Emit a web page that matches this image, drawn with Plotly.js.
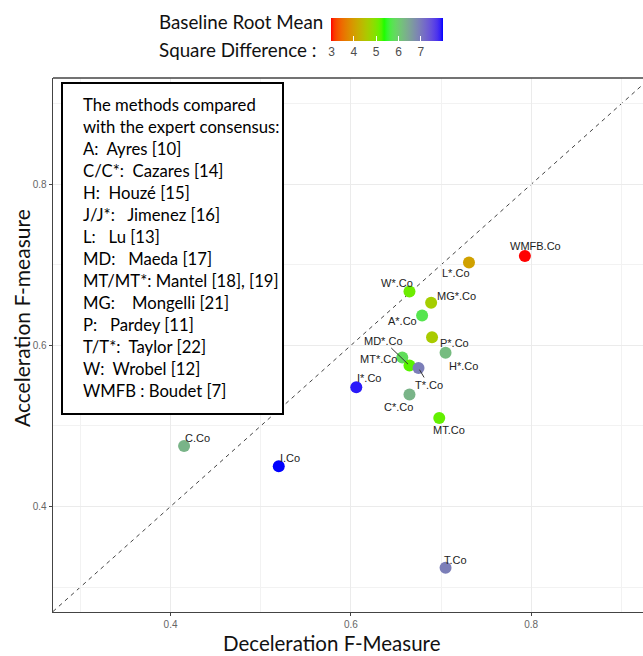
<!DOCTYPE html>
<html><head><meta charset="utf-8">
<script src="https://cdn.plot.ly/plotly-3.0.1.min.js"></script>
<style>html,body{margin:0;padding:0;overflow:hidden;background:#fff}</style>
</head><body><div id="chart" style="width:643px;height:656px"></div>
<script>
// ---- data ----
const labels = ["WMFB.Co","L*.Co","W*.Co","MG*.Co","A*.Co","P*.Co","H*.Co","MT*.Co","MD*.Co","T*.Co","I*.Co","C*.Co","MT.Co","C.Co","I.Co","T.Co"];
const decelF = [0.793,0.731,0.665,0.689,0.679,0.690,0.705,0.657,0.665,0.675,0.606,0.665,0.698,0.415,0.520,0.705];
const accelF = [0.711,0.703,0.667,0.653,0.637,0.610,0.591,0.585,0.575,0.572,0.548,0.539,0.510,0.475,0.450,0.324];
const rmsd   = [2.97,4.05,5.1,4.65,5.7,4.6,6.2,5.8,5.2,6.95,7.9,6.3,5.15,6.3,8.0,6.95];
const xTicks = [0.4,0.6,0.8];
const yTicks = [0.4,0.6,0.8];
const minorTicks = [0.3,0.5,0.7,0.9];
const cbTicks = [3,4,5,6,7];
const legendLines = [
  "The methods compared",
  "with the expert consensus:",
  "A:  Ayres [10]",
  "C/C*:  Cazares [14]",
  "H:  Houzé [15]",
  "J/J*:   Jimenez [16]",
  "L:   Lu [13]",
  "MD:   Maeda [17]",
  "MT/MT*: Mantel [18], [19]",
  "MG:    Mongelli [21]",
  "P:   Pardey [11]",
  "T/T*:  Taylor [22]",
  "W:  Wrobel [12]",
  "WMFB : Boudet [7]"
];
const cbTitleLines = ["Baseline Root Mean","Square Difference :"];
const xTitle = "Deceleration F-Measure";
const yTitle = "Acceleration F-measure";

// ---- style: label offsets in px (dx right, dy down) ----
const labelDx = [11,-13,-12,25,-20,22,18,-24,-26,10,13,-11,10,13,11,10];
const labelDy = [-10,11,-8,-7,5,6,13,2,-25,17,-9,12,12,-8,-8,-8];
const withSegment = [false,false,false,false,false,false,false,false,true,true,false,false,false,false,false,false];

// ---- geometry ----
const PL=53, PT=78, PR=643, PB=612;
const PW=PR-PL, PH=PB-PT;
const px2x = p => (p-PL)/PW;
const py2y = p => (PB-p)/PH;

// ---- Lab colour interpolation (like ggplot gradientn) ----
function hex2rgb(h){return [1,3,5].map(i=>parseInt(h.substr(i,2),16)/255);}
function lin(c){return c<=0.04045?c/12.92:Math.pow((c+0.055)/1.055,2.4);}
function delin(c){return c<=0.0031308?12.92*c:1.055*Math.pow(c,1/2.4)-0.055;}
function rgb2lab(rgb){
  const [r,g,b]=rgb.map(lin);
  let X=(0.4124*r+0.3576*g+0.1805*b)/0.95047, Y=(0.2126*r+0.7152*g+0.0722*b), Z=(0.0193*r+0.1192*g+0.9505*b)/1.08883;
  const f=t=>t>0.008856?Math.cbrt(t):7.787*t+16/116;
  const fx=f(X),fy=f(Y),fz=f(Z);
  return [116*fy-16,500*(fx-fy),200*(fy-fz)];
}
function lab2rgb(lab){
  const [L,a,b]=lab; const fy=(L+16)/116, fx=fy+a/500, fz=fy-b/200;
  const fi=t=>t*t*t>0.008856?t*t*t:(t-16/116)/7.787;
  const X=fi(fx)*0.95047, Y=fi(fy), Z=fi(fz)*1.08883;
  let r=3.2406*X-1.5372*Y-0.4986*Z, g=-0.9689*X+1.8758*Y+0.0415*Z, bb=0.0557*X-0.2040*Y+1.0570*Z;
  return [r,g,bb].map(v=>Math.round(Math.max(0,Math.min(1,delin(v)))*255));
}
const anchors=[[0,"#ff0000"],[0.48,"#00ff00"],[1,"#0000ff"]].map(a=>[a[0],rgb2lab(hex2rgb(a[1]))]);
const colorscale=[];
for(let i=0;i<=40;i++){
  const t=i/40; let k=t<=anchors[1][0]?0:1;
  const [t0,l0]=anchors[k],[t1,l1]=anchors[k+1];
  const u=(t-t0)/(t1-t0);
  const lab=l0.map((v,j)=>v+(l1[j]-v)*u);
  const c=lab2rgb(lab);
  colorscale.push([t,`rgb(${c[0]},${c[1]},${c[2]})`]);
}

const xr=[0.2696,0.924], yr=[0.269,0.932];

const trace={
  type:'scatter', mode:'markers', x:decelF, y:accelF, text:labels, hoverinfo:'text',
  marker:{size:12, color:rmsd, colorscale:colorscale, cmin:2.97, cmax:8.0, line:{width:0},
    colorbar:{orientation:'h', x:px2x(331), xanchor:'left', y:py2y(18), yanchor:'top',
      len:112, lenmode:'pixels', thickness:23, thicknessmode:'pixels', xpad:0, ypad:0,
      outlinewidth:0, tickvals:cbTicks, ticks:'inside', ticklen:5, tickcolor:'#ffffff', tickwidth:1,
      tickfont:{family:'Liberation Sans', size:12, color:'#4d4d4d'}, title:{text:''}}
  },
  showlegend:false
};

const annotations=[];
labels.forEach((lab,i)=>{
  const a={x:decelF[i], y:accelF[i], xref:'x', yref:'y', text:lab,
    font:{family:'Liberation Sans', size:11, color:'#222'}};
  if(withSegment[i]){
    Object.assign(a,{showarrow:true, ax:labelDx[i], ay:labelDy[i], arrowhead:0, arrowwidth:1, arrowcolor:'#333', standoff:2});
  } else {
    Object.assign(a,{showarrow:false, xshift:labelDx[i], yshift:-labelDy[i]});
  }
  annotations.push(a);
});
legendLines.forEach((t,i)=>{
  annotations.push({xref:'paper', yref:'paper', x:px2x(81), y:py2y(105+i*22), xanchor:'left', yanchor:'middle',
    text:t, showarrow:false, font:{family:'Lato', size:16.7, color:'#000'}});
});
cbTitleLines.forEach((t,i)=>{
  annotations.push({xref:'paper', yref:'paper', x:px2x(157), y:py2y(21+i*28.5), xanchor:'left', yanchor:'middle',
    text:t, showarrow:false, font:{family:'Lato', size:18.8, color:'#111'}});
});
annotations.push({xref:'paper', yref:'paper', x:px2x(332), y:py2y(657), xanchor:'center', yanchor:'bottom',
  text:xTitle, showarrow:false, font:{family:'Lato', size:20.5, color:'#111'}});
annotations.push({xref:'paper', yref:'paper', x:px2x(21), y:py2y(318), xanchor:'center', yanchor:'middle', textangle:-90,
  text:yTitle, showarrow:false, font:{family:'Lato', size:21, color:'#111'}});

const axisCommon={showgrid:true, gridcolor:'#ebebeb', gridwidth:1, zeroline:false,
  showline:true, linecolor:'#444', linewidth:1.3, ticks:'outside', ticklen:3, tickcolor:'#444', tickwidth:1,
  tickfont:{family:'Liberation Sans', size:10, color:'#666'},
  minor:{tickvals:minorTicks, showgrid:true, gridcolor:'#f2f2f2', gridwidth:1, ticks:''}};

const layout={
  width:643, height:656, margin:{l:PL, r:0, t:PT, b:656-PB},
  paper_bgcolor:'#fff', plot_bgcolor:'#fff',
  font:{family:'Liberation Sans'},
  xaxis:Object.assign({}, axisCommon, {range:xr, tickvals:xTicks, ticktext:xTicks.map(v=>v.toFixed(1))}),
  yaxis:Object.assign({}, axisCommon, {range:yr, tickvals:yTicks, ticktext:yTicks.map(v=>v.toFixed(1))}),
  shapes:[
    {type:'line', xref:'x', yref:'y', x0:xr[0], y0:xr[0], x1:yr[1], y1:yr[1], line:{color:'#444', width:1, dash:'4px,4px'}, layer:'below'},
    {type:'line', xref:'paper', yref:'paper', x0:0, x1:1, y0:1, y1:1, line:{color:'#444', width:1.3}},
    {type:'rect', xref:'paper', yref:'paper', x0:px2x(62), x1:px2x(283), y0:py2y(414), y1:py2y(83), line:{color:'#000', width:2}, fillcolor:'#fff', layer:'above'}
  ],
  annotations:annotations
};
Plotly.newPlot('chart',[trace],layout,{displayModeBar:false, staticPlot:true});
</script></body></html>
